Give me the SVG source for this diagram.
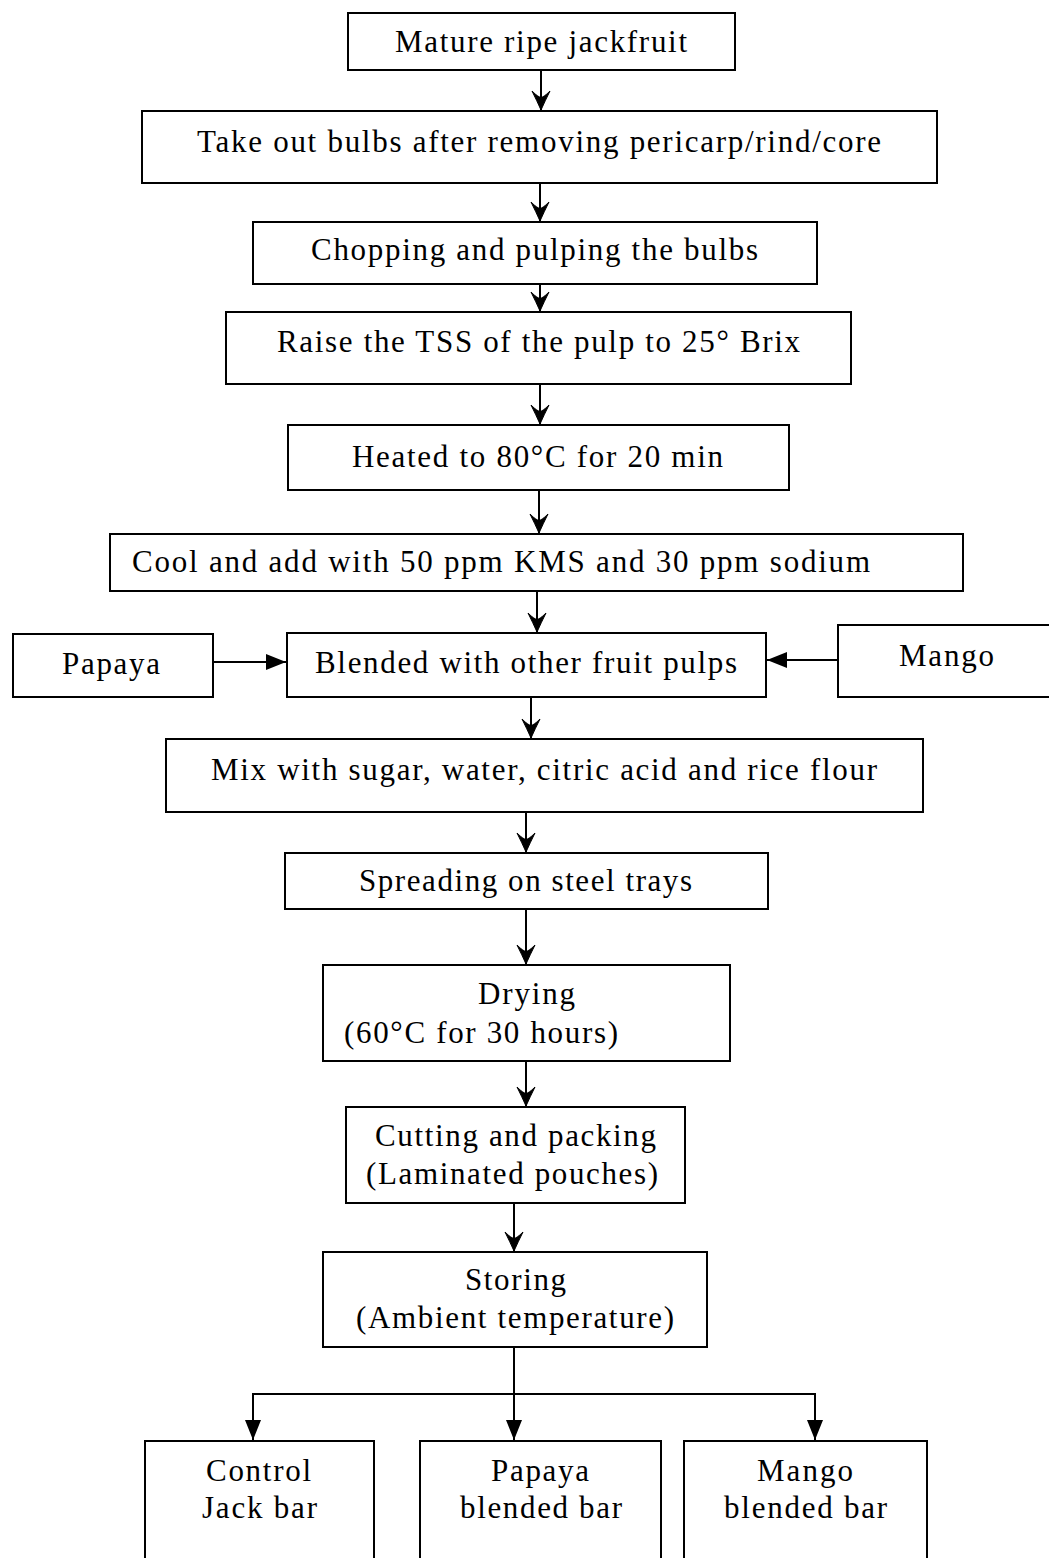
<svg xmlns="http://www.w3.org/2000/svg" width="1049" height="1558" viewBox="0 0 1049 1558">
<style>
.box{fill:#fff;stroke:#000;stroke-width:2}
.t{font-family:"Liberation Serif","DejaVu Serif",serif;font-size:31px;fill:#000;text-anchor:middle}
.c{fill:none;stroke:#000;stroke-width:2}
</style>
<defs>
<marker id="barb" viewBox="-22 -11 24 22" markerWidth="24" markerHeight="22" refX="0" refY="0" orient="auto" markerUnits="userSpaceOnUse">
<path d="M0,0 Q-9,-4 -19,-9 Q-12,-2 -13,0 Q-12,2 -19,9 Q-9,4 0,0 Z" fill="#000" stroke="#000" stroke-width="1"/>
</marker>
<marker id="tri" viewBox="-22 -10 24 20" markerWidth="24" markerHeight="20" refX="0" refY="0" orient="auto" markerUnits="userSpaceOnUse">
<path d="M0,0 L-20,-8 L-20,8 Z" fill="#000"/>
</marker>
</defs>
<rect width="1049" height="1558" fill="#fff"/>
<g id="connectors">
<line class="c" x1="541" y1="70" x2="541" y2="110" marker-end="url(#barb)"/>
<line class="c" x1="540" y1="183" x2="540" y2="221" marker-end="url(#barb)"/>
<line class="c" x1="540" y1="284" x2="540" y2="311" marker-end="url(#barb)"/>
<line class="c" x1="540" y1="384" x2="540" y2="424" marker-end="url(#barb)"/>
<line class="c" x1="539" y1="490" x2="539" y2="533" marker-end="url(#barb)"/>
<line class="c" x1="537" y1="591" x2="537" y2="632" marker-end="url(#barb)"/>
<line class="c" x1="213" y1="662" x2="286" y2="662" marker-end="url(#tri)"/>
<line class="c" x1="838" y1="660" x2="767" y2="660" marker-end="url(#tri)"/>
<line class="c" x1="531" y1="697" x2="531" y2="738" marker-end="url(#barb)"/>
<line class="c" x1="526" y1="813" x2="526" y2="852" marker-end="url(#barb)"/>
<line class="c" x1="526" y1="910" x2="526" y2="964" marker-end="url(#barb)"/>
<line class="c" x1="526" y1="1061" x2="526" y2="1106" marker-end="url(#barb)"/>
<line class="c" x1="514" y1="1203" x2="514" y2="1251" marker-end="url(#barb)"/>
<line class="c" x1="514" y1="1347" x2="514" y2="1440" marker-end="url(#tri)"/>
<polyline class="c" points="253,1440 253,1394 815,1394 815,1440"/>
<line class="c" x1="253" y1="1394" x2="253" y2="1440" marker-end="url(#tri)"/>
<line class="c" x1="815" y1="1394" x2="815" y2="1440" marker-end="url(#tri)"/>
</g>
<g id="n1"><rect class="box" x="348" y="13" width="387" height="57"/><text class="t" x="541" y="52" textLength="292" lengthAdjust="spacing">Mature ripe jackfruit</text></g>
<g id="n2"><rect class="box" x="142" y="111" width="795" height="72"/><text class="t" x="539" y="152" textLength="684" lengthAdjust="spacing">Take out bulbs after removing pericarp/rind/core</text></g>
<g id="n3"><rect class="box" x="253" y="222" width="564" height="62"/><text class="t" x="534.5" y="260" textLength="447" lengthAdjust="spacing">Chopping and pulping the bulbs</text></g>
<g id="n4"><rect class="box" x="226" y="312" width="625" height="72"/><text class="t" x="538.5" y="352" textLength="523" lengthAdjust="spacing">Raise the TSS of the pulp to 25° Brix</text></g>
<g id="n5"><rect class="box" x="288" y="425" width="501" height="65"/><text class="t" x="537.5" y="467" textLength="371" lengthAdjust="spacing">Heated to 80°C for 20 min</text></g>
<g id="n6"><rect class="box" x="110" y="534" width="853" height="57"/><text class="t" x="501" y="572" textLength="738" lengthAdjust="spacing">Cool and add with 50 ppm KMS and 30 ppm sodium</text></g>
<g id="papaya"><rect class="box" x="13" y="634" width="200" height="63"/><text class="t" x="111" y="674" textLength="98" lengthAdjust="spacing">Papaya</text></g>
<g id="n7"><rect class="box" x="287" y="633" width="479" height="64"/><text class="t" x="526" y="673" textLength="422" lengthAdjust="spacing">Blended with other fruit pulps</text></g>
<g id="mango"><rect class="box" x="838" y="625" width="215" height="72"/><text class="t" x="946.5" y="666" textLength="95" lengthAdjust="spacing">Mango</text></g>
<g id="n8"><rect class="box" x="166" y="739" width="757" height="73"/><text class="t" x="544" y="780" textLength="666" lengthAdjust="spacing">Mix with sugar, water, citric acid and rice flour</text></g>
<g id="n9"><rect class="box" x="285" y="853" width="483" height="56"/><text class="t" x="525.5" y="891" textLength="333" lengthAdjust="spacing">Spreading on steel trays</text></g>
<g id="n10"><rect class="box" x="323" y="965" width="407" height="96"/><text class="t" x="526.5" y="1004" textLength="97" lengthAdjust="spacing">Drying</text><text class="t" x="481" y="1043" textLength="274" lengthAdjust="spacing">(60°C for 30 hours)</text></g>
<g id="n11"><rect class="box" x="346" y="1107" width="339" height="96"/><text class="t" x="515.5" y="1146" textLength="281" lengthAdjust="spacing">Cutting and packing</text><text class="t" x="512" y="1184" textLength="292" lengthAdjust="spacing">(Laminated pouches)</text></g>
<g id="n12"><rect class="box" x="323" y="1252" width="384" height="95"/><text class="t" x="515.5" y="1290" textLength="101" lengthAdjust="spacing">Storing</text><text class="t" x="515" y="1328" textLength="318" lengthAdjust="spacing">(Ambient temperature)</text></g>
<g id="b1"><rect class="box" x="145" y="1441" width="229" height="130"/><text class="t" x="258.5" y="1481" textLength="105" lengthAdjust="spacing">Control</text><text class="t" x="259.5" y="1518" textLength="115" lengthAdjust="spacing">Jack bar</text></g>
<g id="b2"><rect class="box" x="420" y="1441" width="241" height="130"/><text class="t" x="540" y="1481" textLength="98" lengthAdjust="spacing">Papaya</text><text class="t" x="541" y="1518" textLength="162" lengthAdjust="spacing">blended bar</text></g>
<g id="b3"><rect class="box" x="684" y="1441" width="243" height="130"/><text class="t" x="805" y="1481" textLength="96" lengthAdjust="spacing">Mango</text><text class="t" x="805.5" y="1518" textLength="163" lengthAdjust="spacing">blended bar</text></g>
</svg>
